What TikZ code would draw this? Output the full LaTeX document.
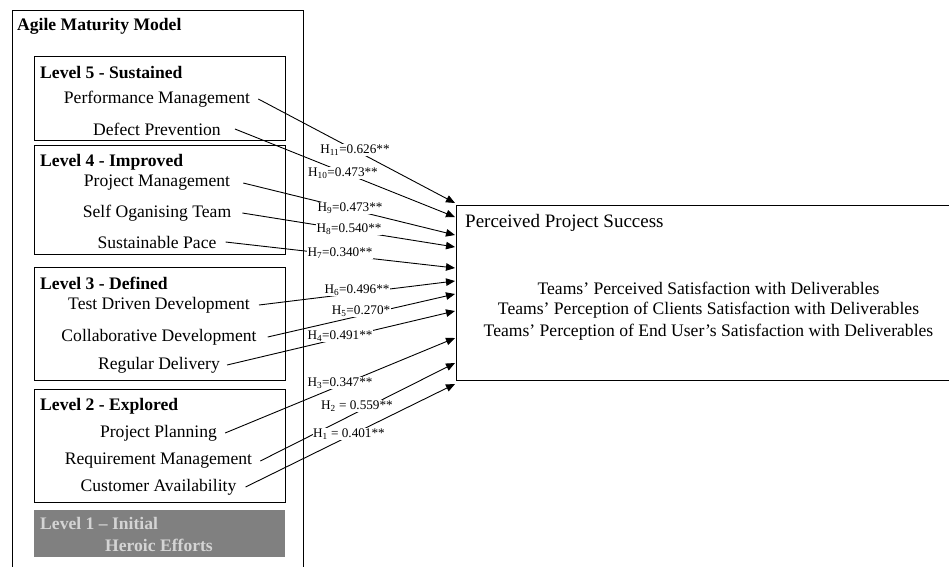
\documentclass[tikz,border=0pt]{standalone}
\usepackage{fontspec}
\setmainfont{Liberation Serif}
\usetikzlibrary{arrows.meta}
\definecolor{lvlgray}{HTML}{808080}
\definecolor{lvltext}{HTML}{D4D4D4}
\begin{document}
\begin{tikzpicture}[x=1pt,y=-1pt,
  frame/.style={draw=black, line width=0.9pt, inner sep=0pt, anchor=north west},
  item/.style={font=\fontsize{17.6}{21}\selectfont, inner sep=0pt, anchor=center},
  head/.style={font=\fontsize{17.6}{21}\selectfont\bfseries, inner sep=0pt, anchor=west},
  hyp/.style={font=\fontsize{13.2}{15}\selectfont, fill=white, inner sep=0.5pt},
  link/.style={line width=0.9pt, -{Triangle[length=9pt,width=7.5pt]}},
]
\useasboundingbox (0,0) rectangle (949,566);
\clip (0,0) rectangle (949,566);

% Outer frame of the maturity model
\node[frame, minimum width=291pt, minimum height=570pt] (amm) at (12,10) {};
\node[head] (ammt) at (17,26) {Agile Maturity Model};

% Level frames
\node[frame, minimum width=251pt, minimum height=84pt]  (l5) at (34,56) {};
\node[frame, minimum width=251pt, minimum height=109pt] (l4) at (34,145) {};
\node[frame, minimum width=251pt, minimum height=113pt] (l3) at (34,267) {};
\node[frame, minimum width=251pt, minimum height=113pt] (l2) at (34,389) {};
\node[frame, draw=none, fill=lvlgray, minimum width=251pt, minimum height=47pt] (l1) at (34,510) {};

% Level 5
\node[head] (l5t) at (40,72) {Level 5 - Sustained};
\node[item] (perf) at (157,99) {Performance Management};
\node[item] (defp) at (157,129) {Defect Prevention};
% Level 4
\node[head] (l4t) at (40,162) {Level 4 - Improved};
\node[item] (prjm) at (157,183) {Project Management};
\node[item] (sot)  at (157,213) {Self Oganising Team};
\node[item] (sp)   at (157,242) {Sustainable Pace};
% Level 3
\node[head] (l3t) at (40,283) {Level 3 - Defined};
\node[item] (tdd) at (159,305) {Test Driven Development};
\node[item] (cd)  at (159,337) {Collaborative Development};
\node[item] (rd)  at (159,365) {Regular Delivery};
% Level 2
\node[head] (l2t) at (40,406) {Level 2 - Explored};
\node[item] (pp) at (158.5,433) {Project Planning};
\node[item] (rm) at (158.5,461) {Requirement Management};
\node[item] (ca) at (158.5,487) {Customer Availability};
% Level 1
\node[head, text=lvltext] (l1t) at (40,523) {Level 1 -- Initial};
\node[item, font=\fontsize{17.6}{21}\selectfont\bfseries, text=lvltext] (he) at (159,545) {Heroic Efforts};

% Outcome construct
\node[frame, minimum width=510pt, minimum height=175pt] (pps) at (456,205) {};
\node[item, anchor=west, font=\fontsize{19}{23}\selectfont] (ppst) at (465,223) {Perceived Project Success};
\node[item] (o1) at (708.5,288) {Teams’ Perceived Satisfaction with Deliverables};
\node[item] (o2) at (708.5,310) {Teams’ Perception of Clients Satisfaction with Deliverables};
\node[item] (o3) at (708.5,332) {Teams’ Perception of End User’s Satisfaction with Deliverables};

% Arrow tips along the outcome frame
\coordinate (t11) at (455,203);
\coordinate (t10) at (455,217);
\coordinate (t9)  at (455,235);
\coordinate (t8)  at (455,247);
\coordinate (t7)  at (455,268);
\coordinate (t6)  at (455,281);
\coordinate (t5)  at (455,294);
\coordinate (t4)  at (455,311);
\coordinate (t3)  at (455,338);
\coordinate (t2)  at (455,363);
\coordinate (t1)  at (455,384);

% Hypothesised paths
\draw[link] ([xshift=8pt]perf.east) -- (t11);
\draw[link] ([xshift=14pt]defp.east) -- (t10);
\draw[link] ([xshift=13pt]prjm.east) -- (t9);
\draw[link] ([xshift=11pt]sot.east) -- (t8);
\draw[link] ([xshift=9pt]sp.east) -- (t7);
\draw[link] ([xshift=9pt]tdd.east) -- (t6);
\draw[link] ([xshift=11pt]cd.east) -- (t5);
\draw[link] ([xshift=7pt]rd.east) -- (t4);
\draw[link] ([xshift=8pt]pp.east) -- (t3);
\draw[link] ([xshift=8pt]rm.east) -- (t2);
\draw[link] ([xshift=9pt]ca.east) -- (t1);

% Path coefficients
\node[hyp] (h11) at (355,150) {H\textsubscript{11}=0.626**};
\node[hyp] (h10) at (343,173) {H\textsubscript{10}=0.473**};
\node[hyp] (h9)  at (350,208) {H\textsubscript{9}=0.473**};
\node[hyp] (h8)  at (349,229) {H\textsubscript{8}=0.540**};
\node[hyp] (h7)  at (340,253) {H\textsubscript{7}=0.340**};
\node[hyp] (h6)  at (357,290) {H\textsubscript{6}=0.496**};
\node[hyp] (h5)  at (361,311) {H\textsubscript{5}=0.270*};
\node[hyp] (h4)  at (340,336) {H\textsubscript{4}=0.491**};
\node[hyp] (h3)  at (340,383) {H\textsubscript{3}=0.347**};
\node[hyp] (h2)  at (357,406) {H\textsubscript{2} = 0.559**};
\node[hyp] (h1)  at (349,434) {H\textsubscript{1} = 0.401**};
\end{tikzpicture}
\end{document}
